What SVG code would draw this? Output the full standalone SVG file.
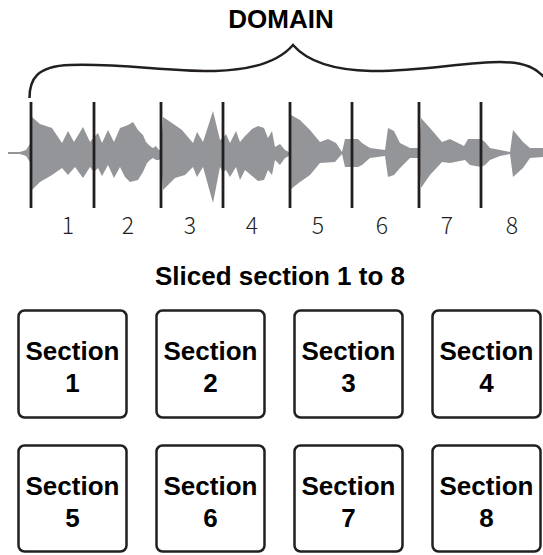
<svg xmlns="http://www.w3.org/2000/svg" width="543" height="555" viewBox="0 0 543 555">
<style>
.ttl{font-family:"Liberation Sans",Arial,sans-serif;font-weight:bold;font-size:26px;fill:#000;text-anchor:middle}
.num{font-family:"Noto Sans CJK JP","Noto Sans",sans-serif;font-weight:300;font-size:23px;fill:#231f20;text-anchor:middle}
.box rect{fill:#fff;stroke:#231f20;stroke-width:2.5}
.box text{font-family:"Liberation Sans",Arial,sans-serif;font-weight:bold;font-size:26px;fill:#000;text-anchor:middle}
.cut{stroke:#231f20;stroke-width:2.8}
</style>
<rect width="543" height="555" fill="#fff"/>
<text class="ttl" x="281" y="28">DOMAIN</text>
<path d="M29.5,98 C29.5,80 36,66 70,65 C120,63 170,72 215,71 C255,70 280,60 293,45 C306,60 331,70 371,71 C416,72 466,62 500,62 C525,62 538,68 548,82" fill="none" stroke="#231f20" stroke-width="2.5"/>
<polygon fill="#939598" points="8,152 20,152 26,150 30,144 32,117 40,124 52,128 62,143 68,131 74,142 83,127 90,142 94,137 98,133 102,143 108,130 114,142 120,128 128,125 133,122 138,130 143,135 146,142 150,146 153,148 156,146 159,150 161,150 163,117 172,123 182,130 193,143 197,132 203,142 213,111 220,140 223,138 226,134 230,143 236,131 240,142 245,136 252,129 258,126 264,128 268,138 272,131 275,147 280,144 285,150 289,152 291,115 300,120 310,130 320,142 328,139 336,143 342,152 345,139 358,139 362,143 370,148 385,150 388,128 394,131 400,143 410,148 419,148 421,118 430,128 442,142 450,139 464,146 468,139 481,139 485,142 490,148 500,150 510,152 513,130 523,142 530,148 543,148 543,157 530,158 523,168 513,177 510,154 500,156 490,160 485,165 481,167 470,165 465,160 450,163 442,162 430,175 421,188 419,158 410,158 400,168 394,175 388,177 385,156 370,158 362,165 358,167 345,167 342,154 335,162 320,163 310,175 300,182 291,189 289,156 285,158 280,165 275,160 272,175 268,170 264,180 258,181 252,176 245,170 240,180 236,167 230,177 226,170 223,172 220,167 213,203 203,167 197,177 193,167 185,175 175,178 163,190 161,158 159,160 156,160 153,158 150,160 147,163 143,172 138,180 130,182 125,177 120,167 114,178 108,165 102,176 98,168 94,172 90,167 83,178 75,167 68,175 62,168 52,175 40,182 32,190 30,162 26,156 20,154 8,154"/>
<g id="cuts" class="cut">
<line x1="31" y1="102" x2="31" y2="208"/>
<line x1="94" y1="102" x2="94" y2="208"/>
<line x1="161" y1="102" x2="161" y2="208"/>
<line x1="223" y1="102" x2="223" y2="208"/>
<line x1="290" y1="102" x2="290" y2="208"/>
<line x1="352" y1="102" x2="352" y2="208"/>
<line x1="419" y1="102" x2="419" y2="208"/>
<line x1="481" y1="102" x2="481" y2="208"/>
</g>
<g id="numbers">
<text class="num" x="68" y="234">1</text>
<text class="num" x="128" y="234">2</text>
<text class="num" x="190" y="234">3</text>
<text class="num" x="252" y="234">4</text>
<text class="num" x="318" y="234">5</text>
<text class="num" x="382" y="234">6</text>
<text class="num" x="447" y="234">7</text>
<text class="num" x="512" y="234">8</text>
</g>
<text class="ttl" x="280" y="285">Sliced section 1 to 8</text>
<g id="section1" class="box"><rect x="18.5" y="310.5" width="108" height="107" rx="6"/><text x="72.5" y="360">Section</text><text x="72.5" y="392">1</text></g>
<g id="section2" class="box"><rect x="156.5" y="310.5" width="108" height="107" rx="6"/><text x="210.5" y="360">Section</text><text x="210.5" y="392">2</text></g>
<g id="section3" class="box"><rect x="294.5" y="310.5" width="108" height="107" rx="6"/><text x="348.5" y="360">Section</text><text x="348.5" y="392">3</text></g>
<g id="section4" class="box"><rect x="432.5" y="310.5" width="108" height="107" rx="6"/><text x="486.5" y="360">Section</text><text x="486.5" y="392">4</text></g>
<g id="section5" class="box"><rect x="18.5" y="445.5" width="108" height="106" rx="6"/><text x="72.5" y="495">Section</text><text x="72.5" y="527">5</text></g>
<g id="section6" class="box"><rect x="156.5" y="445.5" width="108" height="106" rx="6"/><text x="210.5" y="495">Section</text><text x="210.5" y="527">6</text></g>
<g id="section7" class="box"><rect x="294.5" y="445.5" width="108" height="106" rx="6"/><text x="348.5" y="495">Section</text><text x="348.5" y="527">7</text></g>
<g id="section8" class="box"><rect x="432.5" y="445.5" width="108" height="106" rx="6"/><text x="486.5" y="495">Section</text><text x="486.5" y="527">8</text></g>
</svg>
